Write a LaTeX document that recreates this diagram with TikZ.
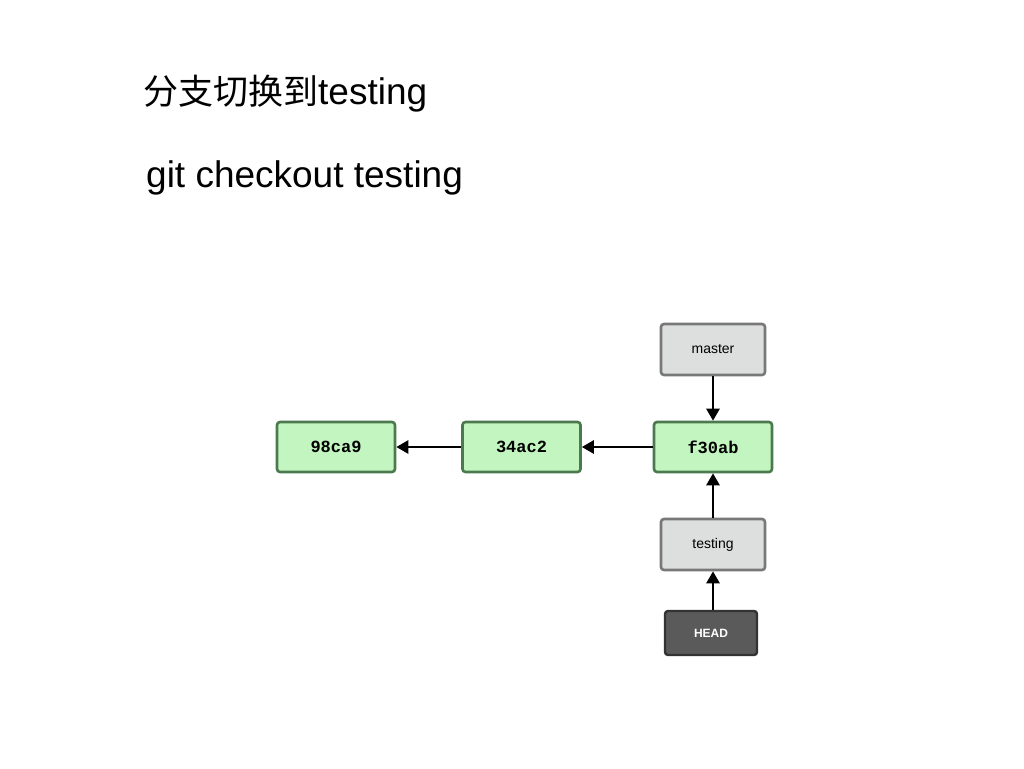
\documentclass[tikz,border=0pt]{standalone}
\usepackage{fontspec}
\setmainfont{Liberation Sans}
\newfontfamily\cjk{Noto Sans CJK SC}[Scale=1.0]
\newfontfamily\monof{Liberation Mono}
\usetikzlibrary{arrows.meta}
\definecolor{cfill}{HTML}{C2F5BF}
\definecolor{cdraw}{HTML}{4B7A4E}
\definecolor{gfill}{HTML}{DDDFDE}
\definecolor{gdraw}{HTML}{787878}
\definecolor{hfill}{HTML}{5A5A5A}
\definecolor{hdraw}{HTML}{333333}
\tikzset{
  commit/.style={draw=cdraw, fill=cfill, line width=2.6pt, rounded corners=3pt,
    minimum width=118pt, minimum height=50pt, inner sep=0pt,
    font=\monof\bfseries\fontsize{17}{17}\selectfont},
  branch/.style={draw=gdraw, fill=gfill, line width=2.6pt, rounded corners=3pt,
    minimum width=104pt, minimum height=51pt, inner sep=0pt,
    font=\fontsize{14}{14}\selectfont},
  headbox/.style={draw=hdraw, fill=hfill, line width=2.4pt, rounded corners=3pt,
    minimum width=92pt, minimum height=44pt, inner sep=0pt, text=white,
    font=\bfseries\fontsize{12}{12}\selectfont},
  arr/.style={-{Triangle[length=12pt,width=13pt]}, line width=2.6pt},
  title/.style={anchor=base west, inner sep=0pt, font=\fontsize{37}{37}\selectfont}
}
\begin{document}
\begin{tikzpicture}[x=1pt,y=-1pt]
\useasboundingbox[fill=white] (0,0) rectangle (1024,768);
\node[title] (t1) at (143,104) {{\cjk\fontsize{35}{35}\selectfont 分支切换到}testing};
\node[title] (t2) at (146,187) {git checkout testing};
\node[commit] (c1) at (336,447) {98ca9};
\node[commit] (c2) at (521.5,447) {34ac2};
\node[commit] (c3) at (713,447) {f30ab};
\node[branch] (m) at (713,349.5) {master};
\node[branch] (t) at (713,544.5) {testing};
\node[headbox] (h) at (711,633) {HEAD};
\draw[arr] (c3) -- (c2);
\draw[arr] (c2) -- (c1);
\draw[arr] (m) -- (c3);
\draw[arr] (t) -- (c3);
\draw[arr] (h.north -| t.south) -- (t.south);
\end{tikzpicture}
\end{document}
